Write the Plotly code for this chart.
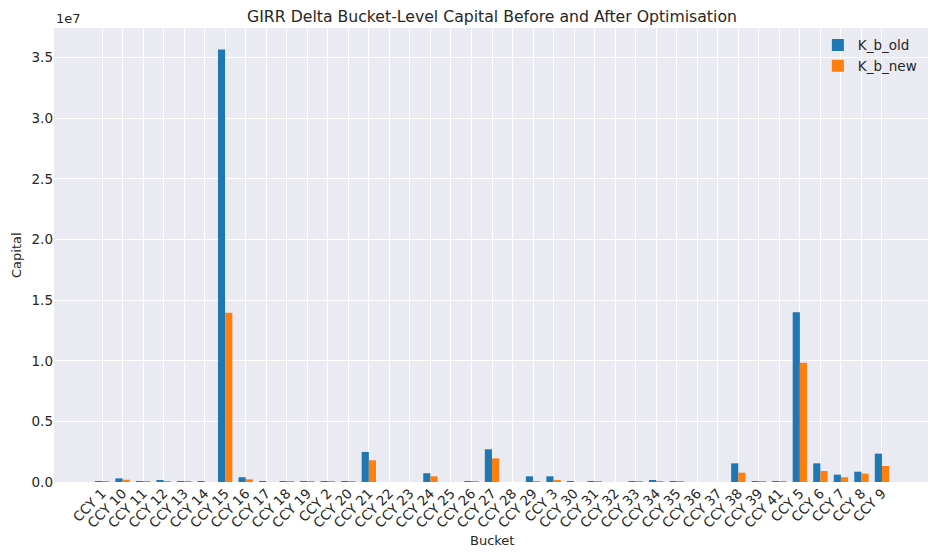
import plotly.graph_objects as go

# Bucket-level capital
buckets = ['CCY 1', 'CCY 10', 'CCY 11', 'CCY 12', 'CCY 13', 'CCY 14', 'CCY 15', 'CCY 16',
           'CCY 17', 'CCY 18', 'CCY 19', 'CCY 2', 'CCY 20', 'CCY 21', 'CCY 22', 'CCY 23',
           'CCY 24', 'CCY 25', 'CCY 26', 'CCY 27', 'CCY 28', 'CCY 29', 'CCY 3', 'CCY 30',
           'CCY 31', 'CCY 32', 'CCY 33', 'CCY 34', 'CCY 35', 'CCY 36', 'CCY 37', 'CCY 38',
           'CCY 39', 'CCY 41', 'CCY 5', 'CCY 6', 'CCY 7', 'CCY 8', 'CCY 9']

k_b_old = [5.5e4, 3.0e5, 6.0e4, 1.4e5, 6.0e4, 5.0e4, 3.567e7, 3.9e5,
           4.0e4, 5.0e4, 6.0e4, 6.0e4, 6.0e4, 2.48e6, 0, 0,
           7.2e5, 0, 6.0e4, 2.70e6, 0, 4.7e5, 4.7e5, 5.0e4,
           6.0e4, 0, 6.0e4, 1.4e5, 6.0e4, 0, 0, 1.54e6,
           6.0e4, 6.0e4, 1.40e7, 1.54e6, 6.1e5, 8.5e5, 2.34e6]

k_b_new = [5.0e4, 1.9e5, 5.0e4, 5.0e4, 5.0e4, 0, 1.396e7, 2.2e5,
           0, 4.0e4, 5.0e4, 5.0e4, 5.0e4, 1.79e6, 0, 0,
           4.7e5, 0, 5.0e4, 1.95e6, 0, 5.0e4, 1.4e5, 0,
           5.0e4, 0, 5.0e4, 5.0e4, 5.0e4, 0, 0, 7.7e5,
           5.0e4, 5.0e4, 9.83e6, 9.1e5, 3.9e5, 6.9e5, 1.32e6]

y_ticks = [0, 0.5e7, 1.0e7, 1.5e7, 2.0e7, 2.5e7, 3.0e7, 3.5e7]

text_color = '#262626'
font_family = 'DejaVu Sans, sans-serif'

fig = go.Figure()
fig.add_trace(go.Bar(x=buckets, y=k_b_old, name='K_b_old', marker_color='#1f77b4',
                     marker_line_width=0))
fig.add_trace(go.Bar(x=buckets, y=k_b_new, name='K_b_new', marker_color='#ff7f0e',
                     marker_line_width=0))

n = len(buckets)
# page body adds an 8px margin, so the figure is 8px smaller and margins shifted
fig.update_layout(
    width=928, height=544,
    margin=dict(l=46, r=6, t=20, b=70, autoexpand=False),
    paper_bgcolor='white',
    plot_bgcolor='#EAEAF2',
    barmode='group',
    bargap=0.3,
    bargroupgap=0,
    font=dict(family=font_family, size=13.5, color=text_color),
    title=dict(text='GIRR Delta Bucket-Level Capital Before and After Optimisation',
               xref='paper', x=0.5, xanchor='center',
               yref='container', y=1 - 8 / 544, yanchor='middle',
               font=dict(size=15.7, color=text_color)),
    legend=dict(x=0.872, y=0.996, xanchor='left', yanchor='top',
                bgcolor='rgba(0,0,0,0)', font=dict(size=13.5), tracegroupgap=0),
    showlegend=True,
)
fig.update_xaxes(
    range=[-2.34, n - 1 + 2.34],
    tickangle=-45,
    automargin=False,
    showgrid=True, gridcolor='white', gridwidth=1,
    zeroline=False, showline=False, ticks='',
)
fig.update_yaxes(
    range=[0, 3.745e7],
    tickvals=y_ticks,
    ticktext=[f'{v / 1e7:.1f}' for v in y_ticks],
    automargin=False,
    showgrid=True, gridcolor='white', gridwidth=1,
    zeroline=False, showline=False, ticks='',
)
# axis titles and offset text placed as annotations so they sit where the reference has them
fig.add_annotation(text='Bucket', xref='paper', yref='paper', x=0.5, y=-58 / 454,
                   xanchor='center', yanchor='middle', showarrow=False,
                   font=dict(size=13, color=text_color))
fig.add_annotation(text='Capital', xref='paper', yref='paper', x=-38 / 876, y=0.5,
                   xanchor='center', yanchor='middle', textangle=-90, showarrow=False,
                   font=dict(size=13, color=text_color))
fig.add_annotation(text='1e7', xref='paper', yref='paper', x=0, y=1.0,
                   xanchor='left', yanchor='bottom', showarrow=False,
                   font=dict(size=13, color=text_color))

fig.write_html('out.html')
